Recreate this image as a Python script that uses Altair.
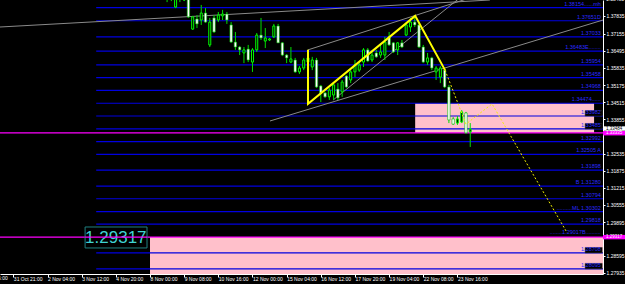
import json
import altair as alt
import pandas as pd

# ---------------- candles (H4 bars, bar 0 = 8 Nov 00:00) ----------------
first_bar = 4
opens = [1.3876, 1.3857, 1.3818, 1.3861, 1.3845, 1.3884, 1.3733, 1.3772, 1.3768, 1.3795,
         1.3672, 1.3776, 1.3768, 1.3784, 1.3791, 1.3749, 1.3683, 1.3664, 1.3641, 1.3656,
         1.3606, 1.3653, 1.3710, 1.3687, 1.3691, 1.3703, 1.3745, 1.3680, 1.3633, 1.3606,
         1.3614, 1.3568, 1.3583, 1.3606, 1.3587, 1.3614, 1.3514, 1.3487, 1.3472, 1.3479,
         1.3502, 1.3491, 1.3552, 1.3537, 1.3568, 1.3575, 1.3606, 1.3653, 1.3614, 1.3641,
         1.3633, 1.3633, 1.3703, 1.3680, 1.3653, 1.3680, 1.3710, 1.3741, 1.3760, 1.3749,
         1.3664, 1.3606, 1.3622, 1.3568, 1.3548, 1.3575, 1.3510, 1.3387, 1.3371, 1.3375,
         1.3410, 1.3337]
highs = [1.3891, 1.3884, 1.3868, 1.3876, 1.3891, 1.3903, 1.3784, 1.3787, 1.3826, 1.3814,
         1.3776, 1.3787, 1.3799, 1.3807, 1.3799, 1.3760, 1.3722, 1.3668, 1.3664, 1.3672,
         1.3660, 1.3718, 1.3776, 1.3737, 1.3699, 1.3753, 1.3753, 1.3683, 1.3637, 1.3664,
         1.3622, 1.3591, 1.3622, 1.3653, 1.3626, 1.3622, 1.3518, 1.3491, 1.3506, 1.3525,
         1.3525, 1.3537, 1.3556, 1.3575, 1.3614, 1.3602, 1.3660, 1.3660, 1.3645, 1.3653,
         1.3672, 1.3703, 1.3722, 1.3683, 1.3683, 1.3691, 1.3757, 1.3776, 1.3787, 1.3757,
         1.3672, 1.3641, 1.3626, 1.3591, 1.3591, 1.3583, 1.3518, 1.3394, 1.3398, 1.3421,
         1.3414, 1.3371]
lows = [1.3837, 1.3841, 1.3814, 1.3837, 1.3841, 1.3776, 1.3730, 1.3737, 1.3749, 1.3757,
        1.3664, 1.3718, 1.3760, 1.3768, 1.3753, 1.3680, 1.3653, 1.3633, 1.3602, 1.3606,
        1.3568, 1.3645, 1.3691, 1.3660, 1.3687, 1.3699, 1.3680, 1.3629, 1.3602, 1.3602,
        1.3564, 1.3560, 1.3575, 1.3599, 1.3575, 1.3506, 1.3452, 1.3468, 1.3460, 1.3460,
        1.3460, 1.3472, 1.3506, 1.3525, 1.3548, 1.3568, 1.3587, 1.3606, 1.3606, 1.3622,
        1.3622, 1.3614, 1.3668, 1.3641, 1.3633, 1.3660, 1.3706, 1.3722, 1.3741, 1.3660,
        1.3602, 1.3595, 1.3575, 1.3537, 1.3525, 1.3506, 1.3371, 1.3364, 1.3364, 1.3371,
        1.3329, 1.3279]
closes = [1.3857, 1.3872, 1.3853, 1.3849, 1.3868, 1.3780, 1.3780, 1.3753, 1.3795, 1.3760,
          1.3760, 1.3722, 1.3787, 1.3791, 1.3768, 1.3683, 1.3664, 1.3653, 1.3653, 1.3614,
          1.3653, 1.3710, 1.3699, 1.3699, 1.3695, 1.3745, 1.3680, 1.3633, 1.3622, 1.3618,
          1.3568, 1.3583, 1.3614, 1.3622, 1.3614, 1.3510, 1.3487, 1.3472, 1.3498, 1.3518,
          1.3468, 1.3529, 1.3510, 1.3568, 1.3595, 1.3595, 1.3653, 1.3610, 1.3633, 1.3626,
          1.3645, 1.3683, 1.3672, 1.3645, 1.3680, 1.3664, 1.3749, 1.3760, 1.3749, 1.3664,
          1.3606, 1.3622, 1.3583, 1.3583, 1.3583, 1.3510, 1.3383, 1.3367, 1.3387, 1.3414,
          1.3333, 1.3348]

# ---------------- axes ----------------
x_tick_bars = [-32, -24, -16, -8, 0, 8, 16, 24, 32, 40, 48, 56, 64, 72]
x_tick_labels = ["31 Oct 21:00", "2 Nov 04:00", "3 Nov 12:00", "4 Nov 20:00",
                 "8 Nov 00:00", "9 Nov 08:00", "10 Nov 16:00", "12 Nov 00:00", "15 Nov 04:00",
                 "16 Nov 12:00", "17 Nov 20:00", "19 Nov 04:00", "22 Nov 08:00", "23 Nov 16:00"]
cut_tick_bar = -40
cut_tick_label = "29 Oct 06:00"
y_tick_values = [1.37835, 1.37155, 1.36495, 1.35835, 1.35175, 1.34515, 1.33855,
                 1.32535, 1.31875, 1.31215, 1.30555, 1.29895, 1.28595, 1.27935]
top_tick_value = 1.38495
x_domain = [-35.13, 106.09]
y_domain = [1.27896, 1.38451]

# ---------------- horizontal levels ----------------
level_prices = [1.38154, 1.37651, 1.37033, 1.36483, 1.35954, 1.35458, 1.34968, 1.34474,
                1.33982, 1.33485, 1.32992, 1.32505, 1.31898, 1.31280, 1.30794, 1.30302,
                1.29818, 1.28708, 1.28095]
level_texts = ["1.38154......mh", "1.37651D", "1.37033", "1.36483E........", "1.35954",
               "1.35458", "1.34968", "1.34474......", "1.33982", "1.33485", "1.32992",
               "1.32505 A", "1.31898", "B 1.31280", "1.30794", "..........ML 1.30302",
               "1.29818", "1.28708", "1.28095"]
level_boxed = [False, False, False, False, False, False, False, False, True, True, False,
               False, False, False, False, False, False, True, True]
level_start_bar = -12.6
label_end_bar = 105.6
box_bars = [101.9, 105.9]
extra_text = "........1.29017B.........."
extra_price = 1.2940

magenta_prices = [1.33335, 1.29317]

# zones (bar from, bar to, price top, price bottom)
zone_bar0 = [62.1, 0.0]
zone_bar1 = [104.0, 106.09]
zone_top = [1.34474, 1.29317]
zone_bot = [1.33335, 1.2700]

# grey trend lines (bar, price) -> (bar, price)
trend_b0 = [-35.2, 37.0, 28.1, 42.9]
trend_p0 = [1.3741, 1.3653, 1.3379, 1.3460]
trend_b1 = [79.6, 80.0, 106.1, 76.0]
trend_p1 = [1.3845, 1.3880, 1.3768, 1.3899]

# harmonic pattern (solid) and projection (dotted)
pat_bars = [37.0, 37.0, 62.1, 69.1]
pat_prices = [1.3653, 1.3445, 1.3784, 1.3575]
proj_bars = [69.1, 74.0, 80.1, 97.7]
proj_prices = [1.3575, 1.3367, 1.3445, 1.2948]

# big price label
big_text = "1.29317"
big_box_bars = [-15.2, -0.7]
big_box_prices = [1.28899, 1.29707]
big_text_bar = -8.0

# right margin price boxes
mark_texts = ["1.33484", "1.33335", "1.29317"]
mark_prices = [1.33500, 1.33320, 1.29317]
mark_fill = ["#ffffff", "#ff00ff", "#ff00ff"]
mark_color = ["#000000", "#ffffff", "#ffffff"]

# ---------------- build ----------------
xs = alt.Scale(domain=x_domain, nice=False, zero=False, padding=0)
ys = alt.Scale(domain=y_domain, nice=False, zero=False, padding=0)
FONT = "Liberation Sans"

label_expr = "%s[round((datum.value - (%d)) / 8)]" % (json.dumps(x_tick_labels), x_tick_bars[0])

x_axis = alt.Axis(values=x_tick_bars, labelExpr=label_expr, title=None, grid=False,
                  domainColor="#ffffff", tickColor="#ffffff", tickSize=3, labelColor="#ffffff",
                  labelFontSize=5, labelFont=FONT, labelAlign="left", labelBaseline="top",
                  labelPadding=-1, labelFlush=False, labelOverlap=False,
                  labelBound=False)
y_axis = alt.Axis(orient="right", values=y_tick_values, format=".5f", title=None, grid=False,
                  domainColor="#ffffff", tickColor="#ffffff", tickSize=2, labelColor="#ffffff",
                  labelFontSize=5, labelFont=FONT, labelPadding=1, labelFlush=False,
                  labelOverlap=False, labelBound=False)


def X(f):
    return alt.X(f + ":Q", scale=xs, axis=x_axis)


def Y(f):
    return alt.Y(f + ":Q", scale=ys, axis=y_axis)


candles = pd.DataFrame({"bar": list(range(first_bar, first_bar + len(opens))),
                        "open": opens, "high": highs, "low": lows, "close": closes})
candles["bull"] = candles["close"] >= candles["open"]

levels = pd.DataFrame({"price": level_prices, "text": level_texts, "boxed": level_boxed})
levels["x0"] = level_start_bar
levels["x1"] = x_domain[1]
levels["xl"] = label_end_bar

zones = pd.DataFrame({"x0": zone_bar0, "x1": zone_bar1, "p0": zone_top, "p1": zone_bot})
trends = pd.DataFrame({"x0": trend_b0, "p0": trend_p0, "x1": trend_b1, "p1": trend_p1})
pattern = pd.DataFrame({"bar": pat_bars, "price": pat_prices, "k": range(len(pat_bars))})
proj = pd.DataFrame({"bar": proj_bars, "price": proj_prices, "k": range(len(proj_bars))})
mag = pd.DataFrame({"price": magenta_prices, "x0": x_domain[0], "x1": x_domain[1]})
boxed = levels[levels["boxed"]].copy()
boxed["bx0"] = box_bars[0]
boxed["bx1"] = box_bars[1]
marks = pd.DataFrame({"text": mark_texts, "price": mark_prices, "fill": mark_fill, "color": mark_color})

zone_layer = alt.Chart(zones).mark_rect(color="#ffc0cb", clip=True).encode(
    x=X("x0"), x2="x1", y=Y("p0"), y2="p1")

level_layer = alt.Chart(levels).mark_rule(color="#0000e0", strokeWidth=1.2, clip=True).encode(
    x=X("x0"), x2="x1", y=Y("price"))

mag_layer = alt.Chart(mag).mark_rule(color="#ff00ff", strokeWidth=1.3, clip=True).encode(
    x=X("x0"), x2="x1", y=Y("price"))

trend_layer = alt.Chart(trends).mark_rule(color="#8a8a8a", strokeWidth=1, clip=True).encode(
    x=X("x0"), y=Y("p0"), x2="x1", y2="p1")

wick_layer = alt.Chart(candles).mark_rule(color="#00dd00", strokeWidth=1, clip=True).encode(
    x=X("bar"), y=Y("low"), y2="high")

bull_layer = alt.Chart(candles).transform_filter("datum.bull").mark_bar(
    size=2, fill="#000000", stroke="#00ff00", strokeWidth=1, clip=True).encode(
    x=X("bar"), y=Y("open"), y2="close")

bear_layer = alt.Chart(candles).transform_filter("!datum.bull").mark_bar(
    size=2.4, fill="#ffffff", stroke="#00c000", strokeWidth=0.6, clip=True).encode(
    x=X("bar"), y=Y("open"), y2="close")

pattern_layer = alt.Chart(pattern).mark_line(color="#ffff00", strokeWidth=2, clip=True).encode(
    x=X("bar"), y=Y("price"), order="k:Q")

proj_layer = alt.Chart(proj).mark_line(color="#f0f000", strokeWidth=1, strokeDash=[2, 2],
                                       clip=True).encode(
    x=X("bar"), y=Y("price"), order="k:Q")

box_layer = alt.Chart(boxed).transform_calculate(top="datum.price + 0.0021").mark_rect(
    fill="#000000", stroke="#303030", strokeWidth=0.5).encode(
    x=X("bx0"), x2="bx1", y=Y("price"), y2="top:Q")

level_text_layer = alt.Chart(levels).mark_text(
    align="right", baseline="bottom", dy=-1, fontSize=5.5, font=FONT, color="#2a2aff").encode(
    x=X("xl"), y=Y("price"), text="text:N")

extra_layer = alt.Chart(pd.DataFrame({"t": [extra_text], "p": [extra_price], "x": [label_end_bar]})).mark_text(
    align="right", baseline="bottom", fontSize=5.5, font=FONT, color="#2a2aff").encode(
    x=X("x"), y=Y("p"), text="t:N")

big_box = alt.Chart(pd.DataFrame({"x0": [big_box_bars[0]], "x1": [big_box_bars[1]],
                                  "p0": [big_box_prices[0]], "p1": [big_box_prices[1]]})).mark_rect(
    fill="#000000", stroke="#1f8080", strokeWidth=1).encode(
    x=X("x0"), x2="x1", y=Y("p0"), y2="p1")

big_label = alt.Chart(pd.DataFrame({"t": [big_text], "x": [big_text_bar], "p": [magenta_prices[1]]})).mark_text(
    align="center", baseline="middle", fontSize=17, dy=1, font=FONT,
    color="#3fd3d3").encode(x=X("x"), y=Y("p"), text="t:N")

mag_over_big = alt.Chart(pd.DataFrame({"price": [magenta_prices[1]], "x0": [big_box_bars[0]],
                                       "x1": [big_box_bars[1]]})).mark_rule(
    color="#ff00ff", strokeWidth=1.3).encode(x=X("x0"), x2="x1", y=Y("price"))

mark_box = alt.Chart(marks).transform_calculate(
    lo="datum.price - 0.00085", hi="datum.price + 0.00085").mark_rect().encode(
    x=alt.value(603), x2=alt.value(625), y=Y("lo"), y2="hi:Q",
    fill=alt.Fill("fill:N", scale=None))

mark_text = alt.Chart(marks).mark_text(
    align="left", baseline="middle", fontSize=4.5, font=FONT).encode(
    x=alt.value(606), y=Y("price"), text="text:N", color=alt.Color("color:N", scale=None))

# tick labels that sit partly outside the plot (cut by the window edge)
cut_x_label = alt.Chart(pd.DataFrame({"b": [cut_tick_bar], "t": [cut_tick_label]})).mark_text(
    align="left", baseline="top", fontSize=5, font=FONT, color="#ffffff", dx=0).encode(
    x=X("b"), y=alt.value(276), text="t:N")

cut_y_label = alt.Chart(pd.DataFrame({"p": [top_tick_value], "t": ["%.5f" % top_tick_value]})).mark_text(
    align="left", baseline="middle", fontSize=5, font=FONT, color="#ffffff").encode(
    x=alt.value(606), y=Y("p"), text="t:N")

chart = alt.layer(
    zone_layer, level_layer, mag_layer, trend_layer, wick_layer, bull_layer, bear_layer,
    pattern_layer, proj_layer, box_layer, level_text_layer, extra_layer,
    big_box, big_label, mag_over_big, mark_box, mark_text, cut_x_label, cut_y_label,
).properties(
    width=603, height=274,
    autosize=alt.AutoSizeParams(type="none"),
    padding={"left": 0, "top": 0, "right": 22, "bottom": 10},
    background="#000000",
).configure_view(strokeWidth=0)

chart.save("out.html", embed_options={"renderer": "svg", "actions": False})
